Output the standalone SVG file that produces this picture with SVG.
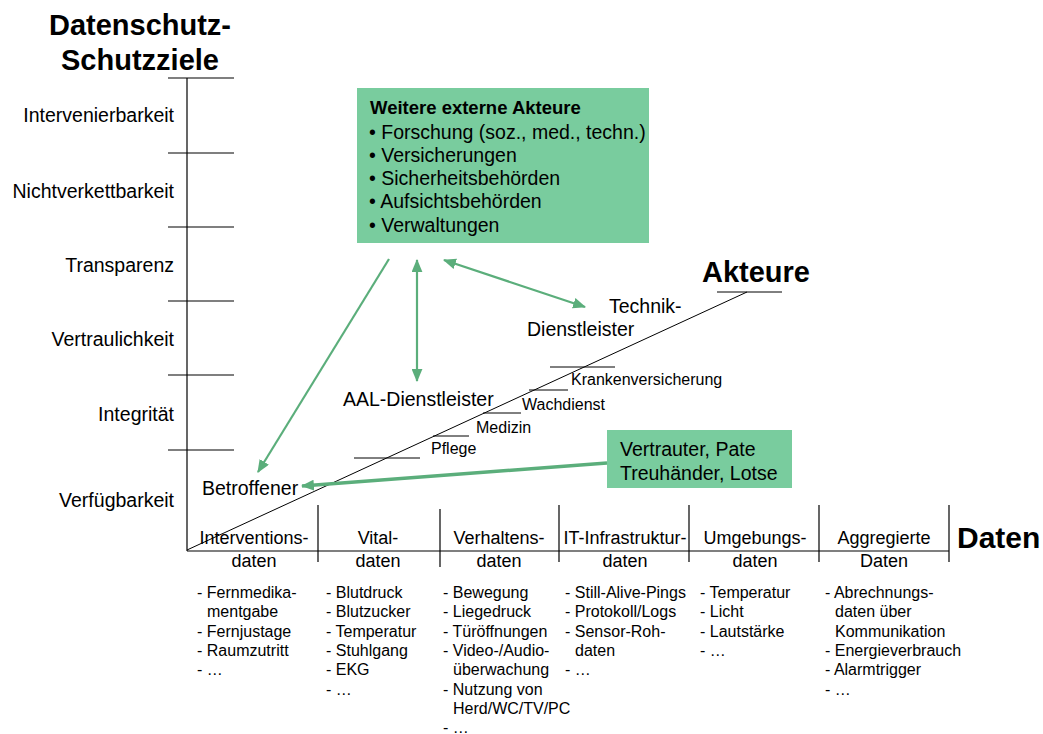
<svg xmlns="http://www.w3.org/2000/svg" width="1043" height="734" viewBox="0 0 1043 734">
<defs>
<style>
text{font-family:"Liberation Sans",Arial,sans-serif;fill:#000}
.h{font-weight:bold;font-size:29px}
.ax{font-size:19.5px}
.lab{font-size:19.5px}
.act{font-size:16px}
.cat{font-size:18px}
.li{font-size:16px}
.axis{stroke:#000;stroke-width:1.2;fill:none}
.thin{stroke:#000;stroke-width:1;fill:none}
.box{fill:#79CC9E}
.arr{stroke:#5BAE7B;stroke-width:2.2;fill:none}
</style>
<marker id="ah" viewBox="0 0 12 10" refX="11" refY="5" markerWidth="13" markerHeight="11" markerUnits="userSpaceOnUse" orient="auto-start-reverse">
<path d="M0,0 L12,5 L0,10 Z" fill="#5BAE7B"/>
</marker>
</defs>
<rect width="1043" height="734" fill="#fff"/>

<g id="axis-schutzziele">
<text class="h" x="140" y="35" text-anchor="middle">Datenschutz-</text>
<text class="h" x="140" y="70" text-anchor="middle">Schutzziele</text>
<line class="axis" x1="187" y1="78" x2="187" y2="551"/>
<line class="axis" x1="168" y1="78" x2="234" y2="78"/>
<line class="axis" x1="168" y1="153" x2="234" y2="153"/>
<line class="axis" x1="168" y1="227" x2="234" y2="227"/>
<line class="axis" x1="168" y1="301" x2="234" y2="301"/>
<line class="axis" x1="168" y1="375" x2="234" y2="375"/>
<line class="axis" x1="168" y1="450" x2="234" y2="450"/>
<g text-anchor="end">
<text class="ax" x="174" y="122">Intervenierbarkeit</text>
<text class="ax" x="174" y="198">Nichtverkettbarkeit</text>
<text class="ax" x="174" y="272">Transparenz</text>
<text class="ax" x="174" y="346">Vertraulichkeit</text>
<text class="ax" x="174" y="421">Integrität</text>
<text class="ax" x="174" y="507">Verfügbarkeit</text>
</g>
</g>

<g id="axis-akteure">
<line class="thin" x1="187" y1="550" x2="747" y2="292"/>
<line class="thin" x1="717" y1="292" x2="782" y2="292"/>
<text class="h" x="702" y="282">Akteure</text>
<line class="thin" x1="550" y1="367" x2="615" y2="367"/>
<line class="thin" x1="529" y1="390" x2="568" y2="390"/>
<line class="thin" x1="483" y1="413" x2="521" y2="413"/>
<line class="thin" x1="433" y1="436" x2="469" y2="436"/>
<line class="thin" x1="354" y1="458" x2="420" y2="458"/>
<text class="act" x="571" y="385">Krankenversicherung</text>
<text class="act" x="522" y="410">Wachdienst</text>
<text class="act" x="476" y="433">Medizin</text>
<text class="act" x="431" y="454">Pflege</text>
</g>

<g id="node-technik">
<text class="lab" x="609" y="313">Technik-</text>
<text class="lab" x="527" y="336">Dienstleister</text>
</g>
<g id="node-aal">
<text class="lab" x="343" y="406">AAL-Dienstleister</text>
</g>
<g id="node-betroffener">
<text class="lab" x="202" y="495">Betroffener</text>
</g>

<g id="node-externe">
<rect class="box" x="357" y="88" width="292" height="155"/>
<text x="370" y="114" style="font-weight:bold;font-size:18.5px">Weitere externe Akteure</text>
<text class="lab" x="369" y="139">• Forschung (soz., med., techn.)</text>
<text class="lab" x="369" y="162">• Versicherungen</text>
<text class="lab" x="369" y="185">• Sicherheitsbehörden</text>
<text class="lab" x="369" y="208">• Aufsichtsbehörden</text>
<text class="lab" x="369" y="232">• Verwaltungen</text>
</g>

<g id="node-vertrauter">
<rect class="box" x="607" y="430" width="185" height="58"/>
<text class="lab" x="620" y="456">Vertrauter, Pate</text>
<text class="lab" x="620" y="480">Treuhänder, Lotse</text>
</g>

<g id="connectors">
<line class="arr" x1="389" y1="259" x2="258" y2="472" marker-end="url(#ah)"/>
<line class="arr" x1="417" y1="260" x2="417" y2="381" marker-start="url(#ah)" marker-end="url(#ah)"/>
<line class="arr" x1="444" y1="260" x2="585" y2="307" marker-start="url(#ah)" marker-end="url(#ah)"/>
<line class="arr" x1="607" y1="463" x2="302" y2="486" style="stroke-width:3.5" marker-end="url(#ah)"/>
</g>

<g id="axis-daten">
<line class="axis" x1="187" y1="551" x2="949" y2="551"/>
<line class="axis" x1="318" y1="505" x2="318" y2="562"/>
<line class="axis" x1="440" y1="509" x2="440" y2="567"/>
<line class="axis" x1="559" y1="505" x2="559" y2="562"/>
<line class="axis" x1="689" y1="505" x2="689" y2="562"/>
<line class="axis" x1="819" y1="505" x2="819" y2="562"/>
<line class="axis" x1="949" y1="505" x2="949" y2="562"/>
<text class="h" x="957" y="548" style="font-size:30px">Daten</text>
<g text-anchor="middle">
<text class="cat" x="254" y="544">Interventions-</text>
<text class="cat" x="254" y="567">daten</text>
<text class="cat" x="378" y="544">Vital-</text>
<text class="cat" x="378" y="567">daten</text>
<text class="cat" x="499" y="544">Verhaltens-</text>
<text class="cat" x="499" y="567">daten</text>
<text class="cat" x="625" y="544">IT-Infrastruktur-</text>
<text class="cat" x="625" y="567">daten</text>
<text class="cat" x="755" y="544">Umgebungs-</text>
<text class="cat" x="755" y="567">daten</text>
<text class="cat" x="884" y="544">Aggregierte</text>
<text class="cat" x="884" y="567">Daten</text>
</g>
</g>

<g id="list-intervention">
<text class="li" x="197" y="598">- Fernmedika-</text>
<text class="li" x="207" y="617">mentgabe</text>
<text class="li" x="197" y="637">- Fernjustage</text>
<text class="li" x="197" y="656">- Raumzutritt</text>
<text class="li" x="197" y="675">- …</text>
</g>
<g id="list-vital">
<text class="li" x="326" y="598">- Blutdruck</text>
<text class="li" x="326" y="617">- Blutzucker</text>
<text class="li" x="326" y="637">- Temperatur</text>
<text class="li" x="326" y="656">- Stuhlgang</text>
<text class="li" x="326" y="675">- EKG</text>
<text class="li" x="326" y="695">- …</text>
</g>
<g id="list-verhalten">
<text class="li" x="443" y="598">- Bewegung</text>
<text class="li" x="443" y="617">- Liegedruck</text>
<text class="li" x="443" y="637">- Türöffnungen</text>
<text class="li" x="443" y="656">- Video-/Audio-</text>
<text class="li" x="453" y="675">überwachung</text>
<text class="li" x="443" y="695">- Nutzung von</text>
<text class="li" x="453" y="714">Herd/WC/TV/PC</text>
<text class="li" x="443" y="733">- …</text>
</g>
<g id="list-it">
<text class="li" x="565" y="598">- Still-Alive-Pings</text>
<text class="li" x="565" y="617">- Protokoll/Logs</text>
<text class="li" x="565" y="637">- Sensor-Roh-</text>
<text class="li" x="575" y="656">daten</text>
<text class="li" x="565" y="675">- …</text>
</g>
<g id="list-umgebung">
<text class="li" x="700" y="598">- Temperatur</text>
<text class="li" x="700" y="617">- Licht</text>
<text class="li" x="700" y="637">- Lautstärke</text>
<text class="li" x="700" y="656">- …</text>
</g>
<g id="list-aggregiert">
<text class="li" x="825" y="598">- Abrechnungs-</text>
<text class="li" x="835" y="617">daten über</text>
<text class="li" x="835" y="637">Kommunikation</text>
<text class="li" x="825" y="656">- Energieverbrauch</text>
<text class="li" x="825" y="675">- Alarmtrigger</text>
<text class="li" x="825" y="695">- …</text>
</g>
</svg>
